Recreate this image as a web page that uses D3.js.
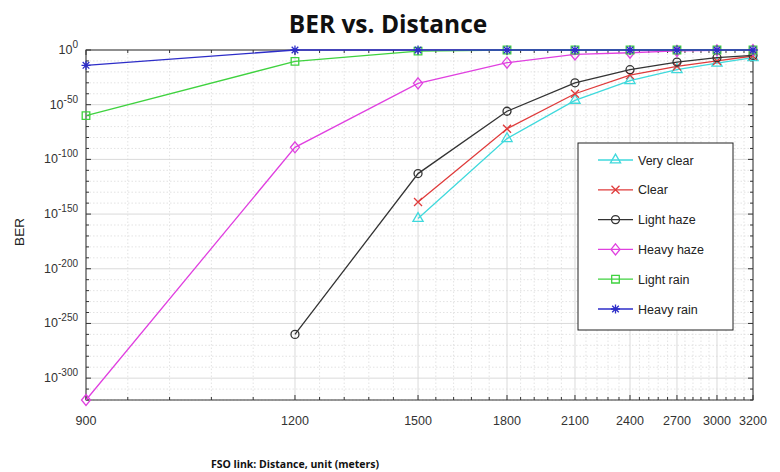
<!DOCTYPE html>
<html>
<head>
<meta charset="utf-8">
<script src="https://cdn.jsdelivr.net/npm/d3@7"></script>
<style>
  html, body { margin: 0; padding: 0; background: #fff; }
  svg { display: block; }
</style>
</head>
<body>
<svg id="chart" width="780" height="472"></svg>
<script>
// ---------------- DATA ----------------
const distances = [900, 1200, 1500, 1800, 2100, 2400, 2700, 3000, 3200];
// relative position of each distance tick along the (non-uniform) x axis
const distanceAxisFraction = [0, 0.3133, 0.4978, 0.6312, 0.7331, 0.8156, 0.886, 0.946, 1];

// log10(BER) values per weather condition (null = not plotted)
const veryClear = [null, null, -154, -81, -46, -28, -18, -12, -7];
const clearSky  = [null, null, -139, -72, -40, -23, -15, -10, -5.5];
const lightHaze = [null, -260, -113, -56, -30, -18, -11, -7, -5];
const heavyHaze = [-320, -89, -30.5, -11.6, -4, -2.5, -0.8, -0.3, -0.1];
const lightRain = [-60, -10.4, -1, 0, 0, 0, 0, 0, 0];
const heavyRain = [-14, 0, 0, 0, 0, 0, 0, 0, 0];

const seriesNames = ["Very clear", "Clear", "Light haze", "Heavy haze", "Light rain", "Heavy rain"];
const seriesValues = [veryClear, clearSky, lightHaze, heavyHaze, lightRain, heavyRain];
const seriesColors = ["#3fd9dc", "#df3b3b", "#333333", "#e040e0", "#3fd23f", "#2d2dc8"];
const seriesMarkers = ["triangle", "cross", "circle", "diamond", "square", "asterisk"];

const yTickExponents = [0, -50, -100, -150, -200, -250, -300];
const yDomain = [-320, 0];

const titleText = "BER vs. Distance";
const xLabelText = "FSO link: Distance, unit (meters)";
const yLabelText = "BER";

// ---------------- LAYOUT ----------------
const svg = d3.select("#chart");
const plot = { left: 86, right: 753, top: 50, bottom: 400 };
const pw = plot.right - plot.left;

const x = d3.scaleLinear()
  .domain(distances)
  .range(distanceAxisFraction.map(f => plot.left + f * pw));
const y = d3.scaleLinear().domain(yDomain).range([plot.bottom, plot.top]);

const g = svg.append("g");

// ---------------- GRID ----------------
const xMinor = [];
for (let i = 0; i < distances.length - 1; i++) {
  const a = distances[i], b = distances[i + 1];
  const n = (b - a) >= 300 ? 4 : 3;
  for (let k = 1; k <= n; k++) xMinor.push(a + (b - a) * k / (n + 1));
}
const yMinor = d3.range(yDomain[0], yDomain[1] + 0.1, 10).filter(v => v % 50 !== 0);

g.append("g").selectAll("line").data(xMinor).join("line")
  .attr("x1", d => x(d)).attr("x2", d => x(d))
  .attr("y1", plot.top).attr("y2", plot.bottom)
  .attr("stroke", "#dcdcdc").attr("stroke-width", 0.8).attr("stroke-dasharray", "1.5,2");
g.append("g").selectAll("line").data(yMinor).join("line")
  .attr("x1", plot.left).attr("x2", plot.right)
  .attr("y1", d => y(d)).attr("y2", d => y(d))
  .attr("stroke", "#dcdcdc").attr("stroke-width", 0.8).attr("stroke-dasharray", "1.5,2");
g.append("g").selectAll("line").data(distances).join("line")
  .attr("x1", d => x(d)).attr("x2", d => x(d))
  .attr("y1", plot.top).attr("y2", plot.bottom)
  .attr("stroke", "#d6d6d6").attr("stroke-width", 0.9);
g.append("g").selectAll("line").data(yTickExponents).join("line")
  .attr("x1", plot.left).attr("x2", plot.right)
  .attr("y1", d => y(d)).attr("y2", d => y(d))
  .attr("stroke", "#d6d6d6").attr("stroke-width", 0.9);

// ---------------- AXES ----------------
const axisColor = "#333";
const tickG = g.append("g").attr("stroke", axisColor).attr("stroke-width", 1);
tickG.selectAll(".xt").data(distances).join("line")
  .attr("x1", d => x(d)).attr("x2", d => x(d)).attr("y1", plot.bottom).attr("y2", plot.bottom - 5);
tickG.selectAll(".xtt").data(distances).join("line")
  .attr("x1", d => x(d)).attr("x2", d => x(d)).attr("y1", plot.top).attr("y2", plot.top + 5);
tickG.selectAll(".xm").data(xMinor).join("line")
  .attr("x1", d => x(d)).attr("x2", d => x(d)).attr("y1", plot.bottom).attr("y2", plot.bottom - 3);
tickG.selectAll(".xmt").data(xMinor).join("line")
  .attr("x1", d => x(d)).attr("x2", d => x(d)).attr("y1", plot.top).attr("y2", plot.top + 3);
tickG.selectAll(".yt").data(yTickExponents).join("line")
  .attr("x1", plot.left).attr("x2", plot.left + 5).attr("y1", d => y(d)).attr("y2", d => y(d));
tickG.selectAll(".ytr").data(yTickExponents).join("line")
  .attr("x1", plot.right).attr("x2", plot.right - 5).attr("y1", d => y(d)).attr("y2", d => y(d));
tickG.selectAll(".ym").data(yMinor).join("line")
  .attr("x1", plot.left).attr("x2", plot.left + 3).attr("y1", d => y(d)).attr("y2", d => y(d));
tickG.selectAll(".ymr").data(yMinor).join("line")
  .attr("x1", plot.right).attr("x2", plot.right - 3).attr("y1", d => y(d)).attr("y2", d => y(d));

g.append("rect")
  .attr("x", plot.left).attr("y", plot.top).attr("width", pw).attr("height", plot.bottom - plot.top)
  .attr("fill", "none").attr("stroke", axisColor).attr("stroke-width", 1);

// x tick labels
g.append("g").selectAll("text").data(distances).join("text")
  .attr("x", d => x(d)).attr("y", 425)
  .attr("text-anchor", "middle")
  .attr("font-family", "Liberation Sans, Arial, sans-serif").attr("font-size", 12.5)
  .attr("fill", "#333")
  .text(d => d);

// y tick labels: 10^exp
const yl = g.append("g").selectAll("text").data(yTickExponents).join("text")
  .attr("x", 78).attr("y", d => y(d) + 4)
  .attr("text-anchor", "end")
  .attr("font-family", "Liberation Sans, Arial, sans-serif").attr("font-size", 12.5)
  .attr("fill", "#333");
yl.append("tspan").text("10");
yl.append("tspan").attr("dy", -6).attr("font-size", 10).text(d => d === 0 ? "0" : "-" + Math.abs(d));

// ---------------- SERIES ----------------
function markerPath(type) {
  switch (type) {
    case "triangle": return d3.symbol(d3.symbolTriangle, 45)();
    case "circle": return d3.symbol(d3.symbolCircle, 50)();
    case "diamond": return "M0,-5.5L4.5,0L0,5.5L-4.5,0Z";
    case "square": return "M-3.8,-3.8H3.8V3.8H-3.8Z";
    case "cross": return "M-4,-4L4,4M-4,4L4,-4";
    case "asterisk": return "M-4.5,0H4.5M0,-4.5V4.5M-3.3,-3.3L3.3,3.3M-3.3,3.3L3.3,-3.3";
  }
}

const line = d3.line()
  .defined(d => d.v !== null)
  .x(d => x(d.d)).y(d => y(d.v));

seriesValues.forEach((vals, i) => {
  const pts = distances.map((d, j) => ({ d, v: vals[j] }));
  const sg = g.append("g");
  sg.append("path").datum(pts)
    .attr("d", line)
    .attr("fill", "none").attr("stroke", seriesColors[i]).attr("stroke-width", 1.3);
  sg.selectAll("path.m").data(pts.filter(p => p.v !== null)).join("path")
    .attr("class", "m")
    .attr("transform", p => `translate(${x(p.d)},${y(p.v)})`)
    .attr("d", markerPath(seriesMarkers[i]))
    .attr("fill", "none").attr("stroke", seriesColors[i]).attr("stroke-width", 1.3);
});

// ---------------- LEGEND ----------------
const lg = svg.append("g").attr("transform", "translate(578,143)");
lg.append("rect").attr("width", 155).attr("height", 187)
  .attr("fill", "#fff").attr("stroke", "#222").attr("stroke-width", 1);
seriesNames.forEach((name, i) => {
  const yy = 17 + i * 29.8;
  lg.append("line").attr("x1", 20).attr("x2", 55).attr("y1", yy).attr("y2", yy)
    .attr("stroke", seriesColors[i]).attr("stroke-width", 1.3);
  lg.append("path").attr("transform", `translate(37.5,${yy})`)
    .attr("d", markerPath(seriesMarkers[i]))
    .attr("fill", "none").attr("stroke", seriesColors[i]).attr("stroke-width", 1.3);
  lg.append("text").attr("x", 60).attr("y", yy + 4.5)
    .attr("font-family", "Liberation Sans, Arial, sans-serif").attr("font-size", 12.5)
    .attr("fill", "#222").text(name);
});

// ---------------- TITLES ----------------
svg.append("text").attr("x", 388).attr("y", 33)
  .attr("text-anchor", "middle")
  .attr("font-family", "Open Sans, sans-serif").attr("font-weight", "bold").attr("font-size", 24.5)
  .attr("fill", "#111").text(titleText);
svg.append("text").attr("x", 295).attr("y", 468)
  .attr("text-anchor", "middle")
  .attr("font-family", "Open Sans, sans-serif").attr("font-weight", "bold").attr("font-size", 10.5)
  .attr("fill", "#111").text(xLabelText);
svg.append("text")
  .attr("transform", "translate(24,232) rotate(-90)")
  .attr("text-anchor", "middle")
  .attr("font-family", "Liberation Sans, Arial, sans-serif").attr("font-size", 13.5)
  .attr("fill", "#222").text(yLabelText);
</script>
</body>
</html>
